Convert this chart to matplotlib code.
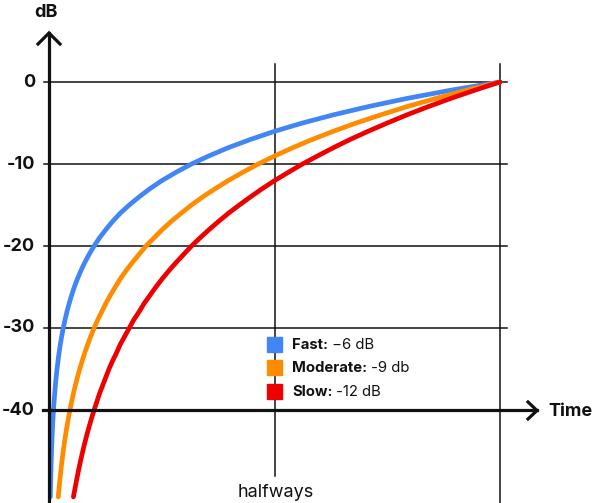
import matplotlib
matplotlib.use("Agg")
import matplotlib.pyplot as plt
from matplotlib.patches import Rectangle

levels_db = [-50.6, -50, -49, -48, -47, -46, -45, -44, -43, -42, -41,
             -40, -39, -38, -37, -36, -35, -34, -33, -32, -31,
             -30, -29, -28, -27, -26, -25, -24, -23, -22, -21,
             -20, -19, -18, -17, -16, -15, -14, -13, -12, -11,
             -10, -9, -8, -7, -6, -5, -4, -3, -2, -1, 0]

# time as fraction of the whole span (0 = start, 1 = end, 0.5 = halfways)
fast_t = [0.0029, 0.0032, 0.0036, 0.0040, 0.0045, 0.0050, 0.0056, 0.0063, 0.0071, 0.0079, 0.0089,
          0.0100, 0.0112, 0.0126, 0.0141, 0.0158, 0.0178, 0.0200, 0.0224, 0.0251, 0.0282,
          0.0316, 0.0355, 0.0398, 0.0447, 0.0501, 0.0562, 0.0631, 0.0708, 0.0794, 0.0891,
          0.100, 0.112, 0.126, 0.141, 0.158, 0.178, 0.200, 0.224, 0.251, 0.282,
          0.316, 0.355, 0.398, 0.447, 0.501, 0.562, 0.631, 0.708, 0.794, 0.891, 1.000]

moderate_t = [0.0206, 0.0215, 0.0233, 0.0251, 0.0271, 0.0293, 0.0316, 0.0341, 0.0369, 0.0398, 0.0430,
              0.0464, 0.0501, 0.0541, 0.0584, 0.0631, 0.0681, 0.0736, 0.0794, 0.0858, 0.0926,
              0.100, 0.108, 0.117, 0.126, 0.136, 0.147, 0.158, 0.171, 0.185, 0.200,
              0.215, 0.233, 0.251, 0.271, 0.293, 0.316, 0.341, 0.369, 0.398, 0.430,
              0.464, 0.501, 0.541, 0.584, 0.631, 0.681, 0.736, 0.794, 0.858, 0.926, 1.000]

slow_t = [0.0541, 0.0562, 0.0596, 0.0631, 0.0668, 0.0708, 0.0750, 0.0794, 0.0841, 0.0891, 0.0944,
          0.100, 0.106, 0.112, 0.119, 0.126, 0.133, 0.141, 0.150, 0.158, 0.168,
          0.178, 0.188, 0.200, 0.211, 0.224, 0.237, 0.251, 0.266, 0.282, 0.299,
          0.316, 0.335, 0.355, 0.376, 0.398, 0.422, 0.447, 0.473, 0.501, 0.531,
          0.562, 0.596, 0.631, 0.668, 0.708, 0.750, 0.794, 0.841, 0.891, 0.944, 1.000]

db_ticks = [0, -10, -20, -30, -40]
tick_labels = ["0", "-10", "-20", "-30", "-40"]
series_names = ["Fast:", "Moderate:", "Slow:"]
series_notes = [" \u22126 dB", " -9 db", " -12 dB"]
colors = ["#4285F4", "#FF8C00", "#EE0000"]


def px_x(x):
    return (x - 49) / 451.0


def px_y(y):
    return -(y - 82) / 8.2


fig = plt.figure(figsize=(5.93, 5.03), dpi=100)
ax = fig.add_axes([0, 0, 1, 1])
ax.set_xlim(px_x(0), px_x(593))
ax.set_ylim(px_y(503), px_y(0))
ax.axis("off")

ink = "#111111"
font = "Inter"

# grid lines and the two vertical markers
for v in db_ticks[:-1]:
    ax.plot([px_x(44), px_x(507)], [v, v], color=ink, lw=1.1, zorder=1)
ax.plot([0.5, 0.5], [px_y(64), px_y(476)], color=ink, lw=1.1, zorder=1)
ax.plot([1.0, 1.0], [px_y(64), px_y(503)], color=ink, lw=1.1, zorder=1)

# curves
for t, c in zip([fast_t, moderate_t, slow_t], colors):
    ax.plot(t, levels_db, color=c, lw=3.4, solid_capstyle="round",
            solid_joinstyle="round", zorder=3)

# axes with arrow heads
ax.plot([0, 0], [px_y(33), px_y(503)], color=ink, lw=2.3, zorder=4)
ax.plot([px_x(43), px_x(537)], [-40, -40], color=ink, lw=2.3, zorder=4)
ax.plot([px_x(38), px_x(49), px_x(60)], [px_y(44), px_y(33), px_y(44)],
        color=ink, lw=2.3, solid_joinstyle="miter", zorder=4)
ax.plot([px_x(528), px_x(537), px_x(528)], [px_y(402), px_y(410.5), px_y(419)],
        color=ink, lw=2.3, solid_joinstyle="miter", zorder=4)

# tick labels
for v, lab in zip(db_ticks, tick_labels):
    ax.text(px_x(35), v, lab, ha="right", va="center", fontsize=13,
            fontweight="bold", fontfamily=font, color=ink)

ax.text(px_x(46), px_y(12), "dB", ha="center", va="center", fontsize=13,
        fontweight="bold", fontfamily=font, color=ink)
ax.text(px_x(548), px_y(411), "Time", ha="left", va="center", fontsize=13,
        fontweight="bold", fontfamily=font, color=ink)
ax.text(px_x(276), px_y(492), "halfways", ha="center", va="center", fontsize=13,
        fontfamily=font, color=ink)

# legend
legend_y = [344.5, 367.5, 391.5]
for y, name, note, c in zip(legend_y, series_names, series_notes, colors):
    ax.add_patch(Rectangle((px_x(267), px_y(y + 7.5)), 15 / 451.0, 15 / 8.2,
                           color=c, zorder=5))
    b = ax.text(px_x(292), px_y(y), name, ha="left", va="center", fontsize=10.7,
                fontweight="bold", fontfamily=font, color=ink, zorder=5)
    ax.annotate(note, xy=(1, 0), xycoords=b, ha="left", va="bottom", fontsize=10.7,
                fontfamily=font, color=ink, zorder=5)

fig.savefig("out.png", dpi=100)
